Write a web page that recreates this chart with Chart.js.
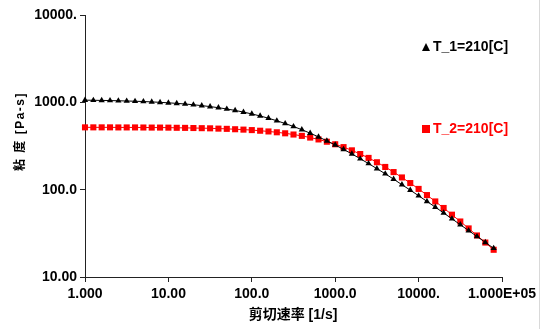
<!DOCTYPE html>
<html><head><meta charset="utf-8">
<script src="https://cdn.jsdelivr.net/npm/chart.js@4.4.1/dist/chart.umd.min.js"></script>
<style>html,body{margin:0;padding:0;background:#fff;}#wrap{position:relative;width:543px;height:329px;}</style>
</head><body><div id="wrap"><canvas id="c" width="543" height="329"></canvas></div>
<script>
const shearRates = [
  1, 1.259, 1.585, 1.995, 2.512, 3.162, 3.981, 5.012, 6.310, 7.943,
  10, 12.59, 15.85, 19.95, 25.12, 31.62, 39.81, 50.12, 63.10, 79.43,
  100, 125.9, 158.5, 199.5, 251.2, 316.2, 398.1, 501.2, 631.0, 794.3,
  1000, 1259, 1585, 1995, 2512, 3162, 3981, 5012, 6310, 7943,
  10000, 12589, 15849, 19953, 25119, 31623, 39811, 50119, 63096, 79433
];
const viscosityT1 = [
  1059, 1056, 1052, 1048, 1042, 1036, 1029, 1021, 1011, 1000,
  987, 973, 957, 938, 917, 894, 868, 839, 808, 773,
  737, 698, 658, 615, 572, 529, 486, 443, 402, 362,
  325, 289, 257, 226, 199, 174, 152, 132, 114, 98.8,
  85.2, 73.4, 63.1, 54.1, 46.4, 39.7, 34.0, 29.1, 24.9, 21.3
];
const viscosityT2 = [
  517, 517, 517, 517, 516, 516, 516, 515, 514, 514,
  513, 511, 510, 508, 506, 504, 500, 497, 492, 487,
  481, 473, 464, 454, 442, 428, 413, 395, 376, 354,
  331, 307, 282, 256, 231, 206, 182, 159, 138, 119,
  102, 86.7, 73.3, 61.7, 51.7, 43.2, 36.0, 29.9, 24.8, 20.5
];
const seriesNames = ['T_1=210[C]', 'T_2=210[C]'];
const xTicks = [1, 10, 100, 1000, 10000, 100000];
const xTickLabels = ['1.000', '10.00', '100.0', '1000.0', '10000.', '1.000E+05'];
const yTicks = [10, 100, 1000, 10000];
const yTickLabels = ['10.00', '100.0', '1000.0', '10000.'];
const xTitle = '剪切速率 [1/s]';
const yTitle = '粘 度 [Pa-s]';

const FONT = '"Liberation Sans", Arial, "Noto Sans CJK SC", sans-serif';

function toPoints(xs, ys) { return xs.map((x, i) => ({ x: x, y: ys[i] })); }
function labelFor(ticks, labels, v) {
  const i = ticks.findIndex(t => Math.abs(Math.log10(t) - Math.log10(v)) < 1e-6);
  return i >= 0 ? labels[i] : '';
}

const overlay = {
  id: 'overlay',
  afterDraw(chart) {
    const ctx = chart.ctx;
    ctx.save();
    // right frame edge
    ctx.fillStyle = '#d9d9d9';
    ctx.fillRect(539, 0, 1, 329);
    // y title
    ctx.save();
    ctx.translate(21, 131.5);
    ctx.rotate(-Math.PI / 2);
    ctx.font = 'bold 12px ' + FONT;
    ctx.fillStyle = '#000';
    ctx.textAlign = 'center';
    ctx.textBaseline = 'middle';
    try { ctx.letterSpacing = '1.5px'; } catch (e) {}
    ctx.fillText(yTitle, 0, 0);
    ctx.restore();
    // x title
    ctx.font = 'bold 14px ' + FONT;
    ctx.fillStyle = '#000';
    ctx.textAlign = 'center';
    ctx.textBaseline = 'middle';
    ctx.fillText(xTitle, 293, 315);
    // legend
    ctx.textAlign = 'left';
    ctx.font = 'bold 14px ' + FONT;
    ctx.fillStyle = '#000';
    ctx.beginPath();
    ctx.moveTo(426, 43);
    ctx.lineTo(430, 51);
    ctx.lineTo(422, 51);
    ctx.closePath();
    ctx.fill();
    ctx.fillText(seriesNames[0], 433, 47.5);
    ctx.fillStyle = '#ff0000';
    ctx.fillRect(422, 125, 8, 8);
    ctx.fillText(seriesNames[1], 433, 129.5);
    ctx.restore();
  }
};

new Chart(document.getElementById('c'), {
  type: 'scatter',
  data: {
    datasets: [
      {
        label: seriesNames[0],
        data: toPoints(shearRates, viscosityT1),
        showLine: true,
        borderColor: '#000',
        borderWidth: 1,
        backgroundColor: '#000',
        pointStyle: 'triangle',
        pointRadius: 3.6,
        pointBorderWidth: 0,
        pointBackgroundColor: '#000',
        clip: false,
        order: 1
      },
      {
        label: seriesNames[1],
        data: toPoints(shearRates, viscosityT2),
        showLine: true,
        borderColor: '#ff0000',
        borderWidth: 1,
        backgroundColor: '#ff0000',
        pointStyle: 'rect',
        pointRadius: 4.3,
        pointBorderWidth: 0,
        pointBackgroundColor: '#ff0000',
        clip: false,
        order: 2
      }
    ]
  },
  options: {
    responsive: false,
    animation: false,
    devicePixelRatio: 1,
    layout: { padding: { left: 0, top: 15, right: 41, bottom: 0 } },
    plugins: { legend: { display: false }, tooltip: { enabled: false } },
    scales: {
      x: {
        type: 'logarithmic',
        position: 'bottom',
        min: 1, max: 100000,
        afterBuildTicks: s => { s.ticks = xTicks.map(v => ({ value: v })); },
        afterFit: s => { s.height = 52; },
        ticks: {
          autoSkip: false, maxRotation: 0, padding: 4,
          color: '#000',
          font: { family: FONT, size: 14, weight: 'bold' },
          callback: v => labelFor(xTicks, xTickLabels, v)
        },
        grid: { display: true, drawOnChartArea: false, drawTicks: true, tickLength: 5, color: '#222', lineWidth: 1 },
        border: { display: true, color: '#222', width: 1 }
      },
      y: {
        type: 'logarithmic',
        position: 'left',
        min: 10, max: 10000,
        afterBuildTicks: s => { s.ticks = yTicks.map(v => ({ value: v })); },
        afterFit: s => { s.width = 85; },
        ticks: {
          autoSkip: false, padding: 3,
          color: '#000',
          font: { family: FONT, size: 14, weight: 'bold' },
          callback: v => labelFor(yTicks, yTickLabels, v)
        },
        grid: { display: true, drawOnChartArea: false, drawTicks: true, tickLength: 5, color: '#222', lineWidth: 1 },
        border: { display: true, color: '#222', width: 1 }
      }
    }
  },
  plugins: [overlay]
});
</script>
</body></html>
